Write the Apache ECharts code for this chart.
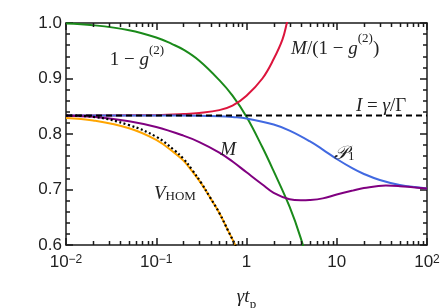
<!DOCTYPE html>
<html><head><meta charset="utf-8">
<script src="https://cdn.jsdelivr.net/npm/echarts@6/dist/echarts.min.js"></script>
<style>html,body{margin:0;padding:0;background:#fff}#c{width:441px;height:308px}</style>
</head><body><div id="c"></div>
<script>
// ---- data ----
const xTickValues = [0.01, 0.1, 1, 10, 100];
const xTickLabels = ['10{s|−2}', '10{s|−1}', '1', '10', '10{s|2}'];
const yTickValues = [0.6, 0.7, 0.8, 0.9, 1.0];
const yTickLabels = ['0.6', '0.7', '0.8', '0.9', '1.0'];
const xMinorMultipliers = [2, 3, 4, 5, 6, 7, 8, 9];
const xDecades = [0.01, 0.1, 1, 10];

const oneMinusG2 = [[0.01,0.999],[0.02,0.996],[0.05,0.987],[0.1,0.974],[0.15,0.962],[0.2,0.952],[0.3,0.932],[0.5,0.897],[0.7,0.869],[1,0.831],[1.5,0.776],[2,0.733],[3,0.669],[4,0.612],[5,0.555]];
const mOverOneMinusG2 = [[0.01,0.8334],[0.05,0.8336],[0.1,0.834],[0.2,0.836],[0.3,0.838],[0.5,0.843],[0.7,0.851],[1,0.869],[1.5,0.900],[2,0.935],[2.5,0.970],[2.8,1.0],[3.1,1.03]];
const indistinguishability = [[0.01,0.8333],[100,0.8333]];
const p1 = [[0.01,0.8333],[0.1,0.8333],[0.3,0.833],[0.5,0.832],[0.7,0.8305],[1,0.828],[2,0.817],[3,0.806],[5,0.787],[7,0.772],[10,0.755],[15,0.738],[20,0.728],[30,0.717],[50,0.708],[100,0.702]];
const mVals = [[0.01,0.833],[0.02,0.831],[0.05,0.823],[0.1,0.8125],[0.2,0.797],[0.3,0.7855],[0.5,0.7666],[0.7,0.7505],[1,0.731],[1.5,0.709],[2,0.694],[3,0.6825],[4,0.6805],[5,0.681],[7,0.684],[10,0.691],[15,0.698],[20,0.7025],[35,0.707],[50,0.706],[70,0.704],[100,0.702]];
const vHom = [[0.01,0.829],[0.02,0.8245],[0.05,0.8105],[0.1,0.7895],[0.158,0.7665],[0.2,0.752],[0.251,0.7325],[0.316,0.7105],[0.398,0.6845],[0.5,0.6578],[0.631,0.6245],[0.794,0.592],[1,0.5585]];
const vHomApprox = [[0.01,0.8333],[0.02,0.831],[0.05,0.816],[0.1,0.795],[0.158,0.771],[0.2,0.7555],[0.251,0.735],[0.316,0.7115],[0.398,0.6848],[0.5,0.6578],[0.631,0.6245],[0.794,0.592],[1,0.5585]];

const annotations = [
  {x: 0.061, y: 0.939, text: '{r|1 − }{i|g}{s|(2)}'},
  {x: 9.6, y: 0.960, text: '{i|M}{r|/(1 − }{i|g}{s|(2)}{r|)}'},
  {x: 31, y: 0.856, text: '{i|I}{r| = }{i|γ}{r|/Γ}'},
  {x: 12.1, y: 0.771, text: '{i|𝒫}{b|1}'},
  {x: 0.625, y: 0.778, text: '{i|M}'},
  {x: 0.161, y: 0.699, text: '{i|V}{b|HOM}'}
];

// ---- chart ----
const xMinorTicks = [];
xDecades.forEach(d => xMinorMultipliers.forEach(k => xMinorTicks.push(+(d * k).toPrecision(3))));

const AX = '#1a1a1a';
const SERIF = '"Liberation Serif", "DejaVu Serif", serif';
const SANS = '"Liberation Sans", Arial, sans-serif';
const mathRich = {
  r: {fontFamily: SERIF, fontSize: 19, color: '#222', lineHeight: 26, verticalAlign: 'bottom'},
  i: {fontFamily: SERIF, fontSize: 19, fontStyle: 'italic', color: '#222', lineHeight: 26, verticalAlign: 'bottom'},
  s: {fontFamily: SERIF, fontSize: 13, color: '#222', lineHeight: 14, verticalAlign: 'top'},
  b: {fontFamily: SERIF, fontSize: 13, color: '#222', lineHeight: 14, verticalAlign: 'bottom'}
};
const mathRichSub = {
  r: {fontFamily: SERIF, fontSize: 19, color: '#222', lineHeight: 24, verticalAlign: 'top'},
  i: {fontFamily: SERIF, fontSize: 19, fontStyle: 'italic', color: '#222', lineHeight: 24, verticalAlign: 'top'},
  b: {fontFamily: SERIF, fontSize: 13, color: '#222', lineHeight: 14, verticalAlign: 'bottom'}
};

function xAxisCfg(pos, showLabel) {
  return {
    type: 'log', logBase: 10, min: 0.01, max: 100, position: pos,
    axisLine: {show: true, lineStyle: {color: AX, width: 1.5}},
    axisTick: {show: true, inside: true, length: 7, lineStyle: {color: AX, width: 1.5}},
    axisLabel: {
      show: showLabel, margin: 9, color: '#222', fontFamily: SANS, fontSize: 17,
      formatter: v => { const i = xTickValues.findIndex(t => Math.abs(Math.log10(t) - Math.log10(v)) < 1e-6); return i >= 0 ? xTickLabels[i] : ''; },
      rich: {s: {fontSize: 12, fontFamily: SANS, color: '#222', verticalAlign: 'top', lineHeight: 12}}
    },
    splitLine: {show: false}
  };
}
function yAxisCfg(pos, showLabel) {
  return {
    type: 'value', min: 0.6, max: 1.0, interval: 0.1, position: pos,
    axisLine: {show: true, lineStyle: {color: AX, width: 1.5}},
    axisTick: {show: true, inside: true, length: 7, lineStyle: {color: AX, width: 1.5}},
    minorTick: {show: true, splitNumber: 5, length: 4, lineStyle: {color: AX, width: 1.5}},
    axisLabel: {
      show: showLabel, margin: 4, color: '#222', fontFamily: SANS, fontSize: 17,
      formatter: v => { const i = yTickValues.findIndex(t => Math.abs(t - v) < 1e-6); return i >= 0 ? yTickLabels[i] : ''; }
    },
    splitLine: {show: false}
  };
}

const chart = echarts.init(document.getElementById('c'), null, {renderer: 'canvas'});
const xb = xAxisCfg('bottom', true);
xb.name = '{i|γt}{b|p}';
xb.nameLocation = 'middle';
xb.nameGap = 42;
xb.nameTextStyle = {rich: mathRichSub};
const line = (data, color, extra) => Object.assign({
  type: 'line', data: data, showSymbol: false, smooth: 0.4, silent: true,
  lineStyle: {color: color, width: 2}, xAxisIndex: 0, yAxisIndex: 0
}, extra || {});

chart.setOption({
  animation: false,
  backgroundColor: '#fff',
  grid: {left: 66, right: 14, top: 23, bottom: 63, containLabel: false, outerBoundsMode: 'none'},
  xAxis: [xb, xAxisCfg('top', false)],
  yAxis: [yAxisCfg('left', true), yAxisCfg('right', false)],
  series: [
    line(oneMinusG2, '#1a8a1a'),
    line(mOverOneMinusG2, '#dc143c'),
    line(p1, '#4169e1'),
    line(mVals, '#800080'),
    line(vHom, '#ffa500'),
    line(indistinguishability, '#000', {smooth: false, lineStyle: {color: '#000', width: 2, type: [6, 4]}}),
    line(vHomApprox, '#000', {lineStyle: {color: '#000', width: 2.2, type: [2, 2.5]}}),
    {
      type: 'custom', xAxisIndex: 0, yAxisIndex: 0, z: 5,
      data: xMinorTicks.map(v => [v, 0.6]),
      renderItem: (params, api) => {
        const v = api.value(0);
        const b = api.coord([v, 0.6]);
        const t = api.coord([v, 1.0]);
        const x = Math.round(b[0]) + 0.5;
        return {type: 'group', children: [
          {type: 'line', shape: {x1: x, y1: b[1], x2: x, y2: b[1] - 4}, style: {stroke: AX, lineWidth: 1.5}},
          {type: 'line', shape: {x1: x, y1: t[1], x2: x, y2: t[1] + 4}, style: {stroke: AX, lineWidth: 1.5}}
        ]};
      }
    },
    {
      type: 'scatter', symbol: 'circle', symbolSize: 1, itemStyle: {color: 'rgba(0,0,0,0)'}, z: 10,
      data: annotations.map(a => ({value: [a.x, a.y], label: {formatter: a.text}})),
      label: {show: true, position: 'inside', opacity: 1, rich: mathRich}
    }
  ]
});
</script></body></html>
